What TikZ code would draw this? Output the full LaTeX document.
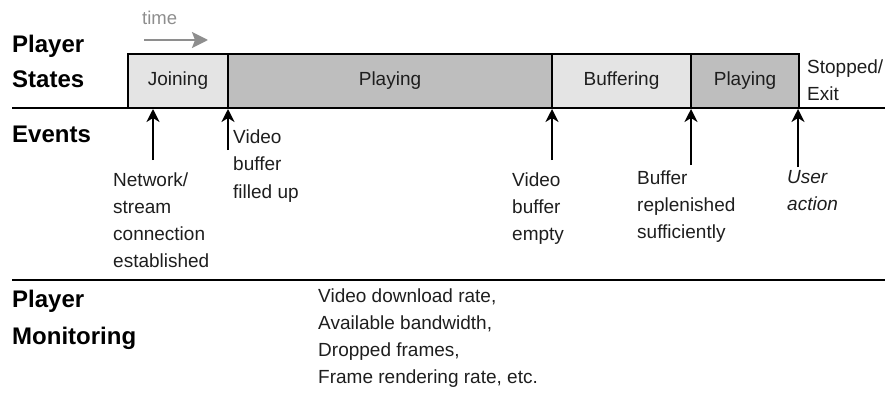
\documentclass[tikz,border=0pt]{standalone}
\usepackage{fontspec}
\setmainfont{Liberation Sans}
\usetikzlibrary{arrows.meta}
\definecolor{lightfill}{HTML}{E4E4E4}
\definecolor{darkfill}{HTML}{BEBEBE}
\definecolor{timegray}{HTML}{8E8E8E}
\definecolor{textc}{HTML}{1E1E1E}
\begin{document}
\begin{tikzpicture}[x=1pt,y=-1pt,
  heading/.style={font=\fontsize{24}{35}\selectfont\bfseries, anchor=base west, inner sep=0, align=left},
  evlabel/.style={font=\fontsize{19}{27}\selectfont, anchor=base west, inner sep=0, align=left, text=textc},
  statebox/.style={draw, line width=2.5pt, minimum height=54pt, inner sep=0, text=textc, font=\fontsize{19}{23}\selectfont},
  evarrow/.style={-{Stealth[length=13pt,width=13pt,inset=4pt]}, line width=2pt},
  rule/.style={line width=2.5pt}]
\useasboundingbox (0,0) rectangle (885,401);

% time arrow
\node[font=\fontsize{18.5}{22}\selectfont, text=timegray, anchor=base west, inner sep=0] (timelbl) at (142,25) {time};
\coordinate (t0) at (144,40);
\coordinate (t1) at (208,40);
\draw[timegray, line width=2pt, -{Stealth[length=16pt,width=16pt,inset=3pt]}] (t0) -- (t1);

% headings (anchor = baseline of last line)
\node[heading] (hstates) at (12,88) {Player\\States};
\node[heading] (hevents) at (12,142) {Events};
\node[heading, font=\fontsize{24}{37}\selectfont\bfseries] (hmon) at (12,344) {Player\\Monitoring};

% rules
\coordinate (r1a) at (12,108);
\coordinate (r1b) at (885,108);
\coordinate (r2a) at (12,280);
\coordinate (r2b) at (885,280);
\draw[rule] (r1a) -- (r1b);
\draw[rule] (r2a) -- (r2b);

% state boxes
\node[statebox, fill=lightfill, minimum width=100pt] (join) at (178,81) {Joining};
\node[statebox, fill=darkfill, minimum width=324pt] (play1) at (390,81) {Playing};
\node[statebox, fill=lightfill, minimum width=139pt] (buff) at (621.5,81) {Buffering};
\node[statebox, fill=darkfill, minimum width=108pt] (play2) at (745,81) {Playing};
\node[evlabel] (stop) at (807,100) {Stopped/\\Exit};

% events
\coordinate (e1s) at (153,160); \coordinate (e1e) at (153,109);
\coordinate (e2s) at (228,150); \coordinate (e2e) at (228,109);
\coordinate (e3s) at (552,160); \coordinate (e3e) at (552,109);
\coordinate (e4s) at (691,165); \coordinate (e4e) at (691,109);
\coordinate (e5s) at (798,167); \coordinate (e5e) at (798,109);
\draw[evarrow] (e1s) -- (e1e);
\draw[evarrow] (e2s) -- (e2e);
\draw[evarrow] (e3s) -- (e3e);
\draw[evarrow] (e4s) -- (e4e);
\draw[evarrow] (e5s) -- (e5e);

\node[evlabel] (l1) at (113,267) {Network/\\stream\\connection\\established};
\node[evlabel, font=\fontsize{19}{27.5}\selectfont] (l2) at (233,198) {Video\\buffer\\filled up};
\node[evlabel] (l3) at (512,240) {Video\\buffer\\empty};
\node[evlabel] (l4) at (637,238) {Buffer\\replenished\\sufficiently};
\node[evlabel] (l5) at (787,210) {\itshape User\\\itshape action};

% monitoring
\node[evlabel] (mon) at (318,383) {Video download rate,\\Available bandwidth,\\Dropped frames,\\Frame rendering rate, etc.};
\end{tikzpicture}
\end{document}
